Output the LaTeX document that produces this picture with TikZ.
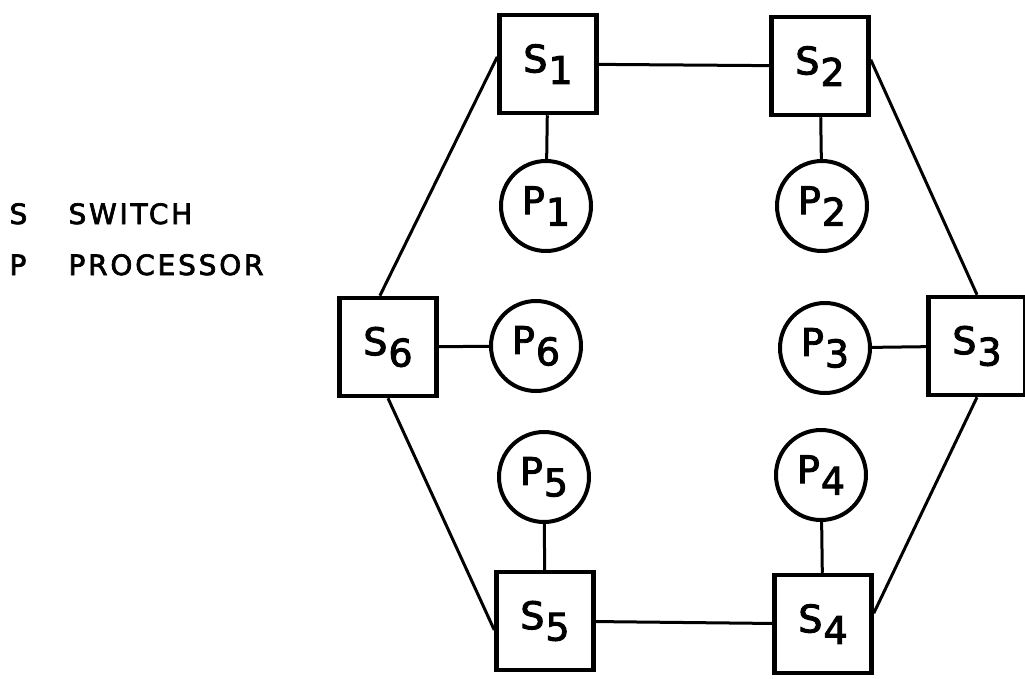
\documentclass[tikz,border=0pt]{standalone}
\usepackage{fontspec}
\setmainfont{DejaVu Sans}
\usetikzlibrary{positioning}
\newcommand{\lab}[2]{#1\kern1pt\raisebox{-0.3em}{#2}}

\begin{document}
\begin{tikzpicture}[x=1pt,y=-1pt,line width=3pt,
	squarednode/.style={rectangle,draw,line width=4.5pt,minimum width=97pt,minimum height=98pt,inner sep=0pt,font=\fontsize{38}{40}\selectfont\addfontfeature{FakeBold=2.5}},
	roundnode/.style={circle,draw,line width=4pt,minimum size=90pt,inner sep=0pt,font=\fontsize{38}{40}\selectfont\addfontfeature{FakeBold=2.5}},
	legendnode/.style={anchor=base west,inner sep=0pt,font=\fontsize{28}{30}\selectfont\addfontfeature{LetterSpace=10,FakeBold=2.5}}]
		\useasboundingbox (0,0) rectangle (1025,678);
		% legend
		\node [legendnode] (ls) at (8, 224) {S};
		\node [legendnode] (lsw) at (67, 224) {SWITCH};
		\node [legendnode] (lp) at (8, 275) {P};
		\node [legendnode] (lpr) at (67, 275) {PROCESSOR};
		% switches
		\node [squarednode] (s1) at (548, 64) {\lab{S}{1}};
		\node [squarednode] (s2) at (820, 66) {\lab{S}{2}};
		\node [squarednode] (s3) at (977, 346) {\lab{S}{3}};
		\node [squarednode] (s4) at (823, 624) {\lab{S}{4}};
		\node [squarednode] (s5) at (545, 621) {\lab{S}{5}};
		\node [squarednode] (s6) at (388, 347) {\lab{S}{6}};
		% processors
		\node [roundnode] (p1) at (546, 206) {\lab{P}{1}};
		\node [roundnode] (p2) at (822, 206) {\lab{P}{2}};
		\node [roundnode] (p3) at (825, 348) {\lab{P}{3}};
		\node [roundnode] (p4) at (821, 475) {\lab{P}{4}};
		\node [roundnode] (p5) at (544, 477) {\lab{P}{5}};
		\node [roundnode] (p6) at (536, 346) {\lab{P}{6}};
		% ring
		\draw (s1) to (s2);
		\draw (s2.7) to (s3.north);
		\draw (s3.south) to (s4.12);
		\draw (s4) to (s5);
		\draw (s5.190) to (s6.south);
		\draw (s6.99) to (s1.172);
		% switch to processor
		\draw (s1) to (p1);
		\draw (s2) to (p2);
		\draw (s3) to (p3);
		\draw (s4) to (p4);
		\draw (s5) to (p5);
		\draw (s6) to (p6);
	\end{tikzpicture}
\end{document}
